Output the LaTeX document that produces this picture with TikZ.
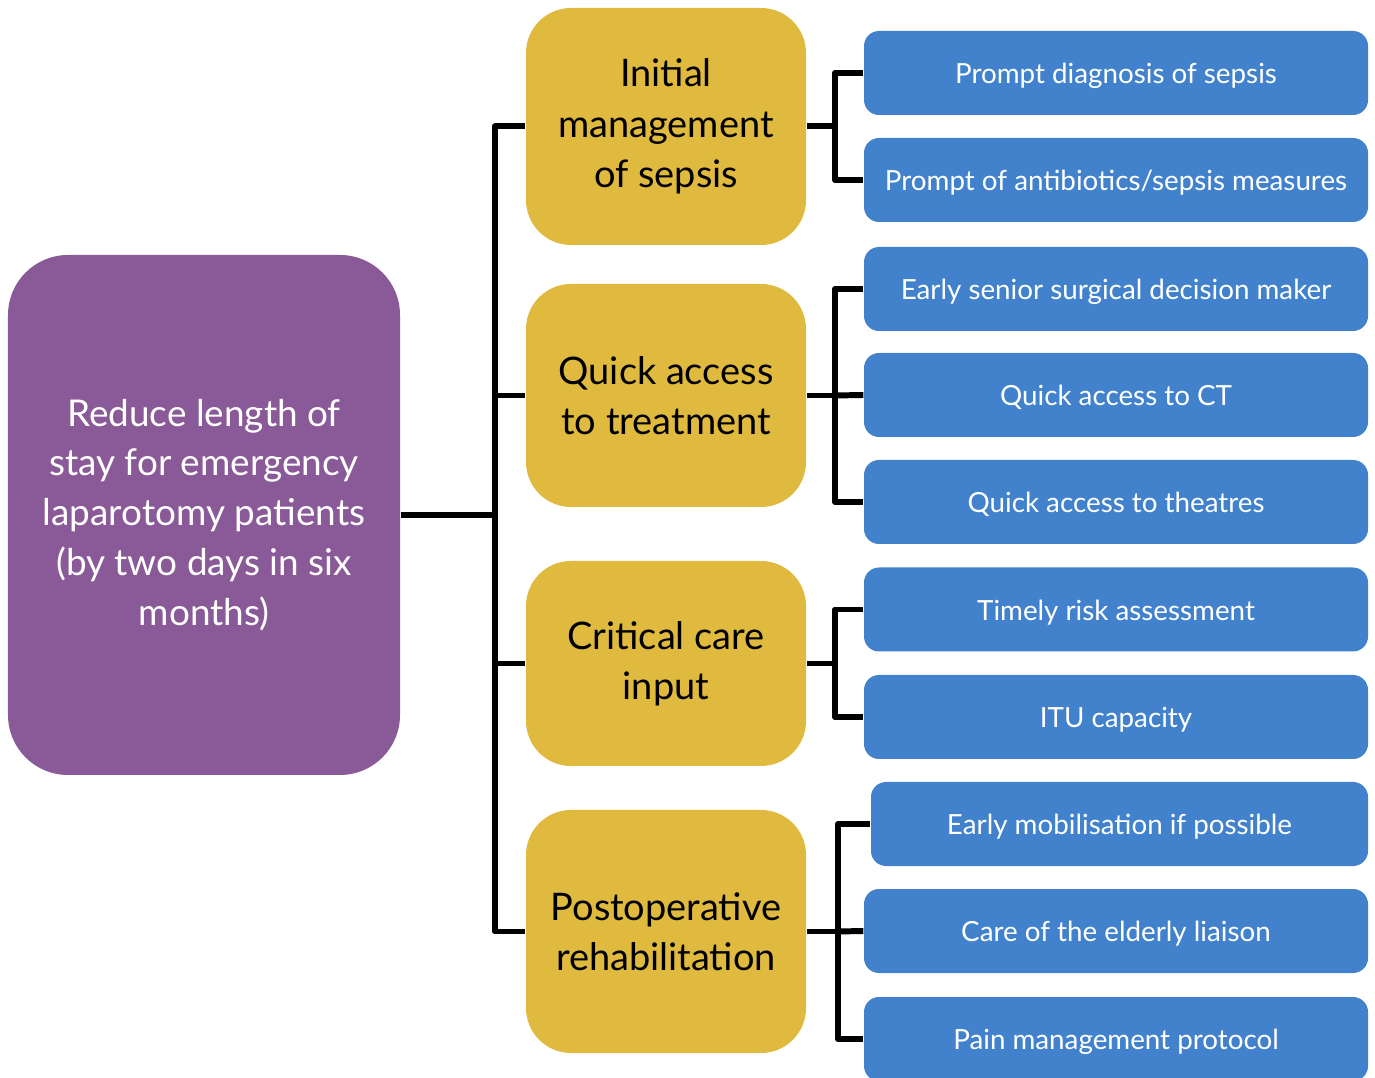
\documentclass[tikz,border=0pt]{standalone}
\usepackage{fontspec}
\setmainfont{Lato}
\usepackage{tikz}

\definecolor{goalpurple}{HTML}{895A97}
\definecolor{driveryellow}{HTML}{E0BA3F}
\definecolor{ideablue}{HTML}{4282CD}

\begin{document}
\begin{tikzpicture}[
		goal/.style={rectangle, fill=goalpurple, rounded corners=0.6cm, inner sep=0pt, minimum width=3.92cm, minimum height=5.2cm, text=white, align=center, font=\fontsize{10.5pt}{14.2pt}\selectfont},
		driver/.style={rectangle, fill=driveryellow, rounded corners=0.45cm, inner sep=0pt, minimum width=2.8cm, text=black, align=center, font=\fontsize{10.8pt}{14.3pt}\selectfont},
		idea/.style={rectangle, fill=ideablue, rounded corners=0.15cm, inner sep=0pt, minimum width=5.04cm, minimum height=0.84cm, text height=1.6ex, text depth=0.4ex, text=white, font=\fontsize{7.9pt}{10pt}\selectfont},
		link/.style={line width=1.7pt, line join=round}
	]
  \useasboundingbox (0,0) rectangle (13.75,10.77);

  \node (goal) [goal] at (2.04, 5.62) {Reduce length of\\stay for emergency\\laparotomy patients\\(by two days in six\\months)};

  \node (d1) [driver, minimum height=2.37cm] at (6.66, 9.505) {Initial\\management\\of sepsis};
  \node (d2) [driver, minimum height=2.23cm] at (6.66, 6.815) {Quick access\\to treatment};
  \node (d3) [driver, minimum height=2.05cm] at (6.66, 4.135) {Critical care\\input};
  \node (d4) [driver, minimum height=2.43cm] at (6.66, 1.455) {Postoperative\\rehabilitation};

  \node (i1) [idea] at (11.16, 10.04) {Prompt diagnosis of sepsis};
  \node (i2) [idea] at (11.16, 8.97) {Prompt of antibiotics/sepsis measures};
  \node (i3) [idea] at (11.16, 7.88) {Early senior surgical decision maker};
  \node (i4) [idea] at (11.16, 6.82) {Quick access to CT};
  \node (i5) [idea] at (11.16, 5.75) {Quick access to theatres};
  \node (i6) [idea] at (11.16, 4.675) {Timely risk assessment};
  \node (i7) [idea] at (11.16, 3.60) {ITU capacity};
  \node (i8) [idea, minimum width=4.97cm] at (11.195, 2.53) {Early mobilisation if possible};
  \node (i9) [idea] at (11.16, 1.46) {Care of the elderly liaison};
  \node (i10) [idea] at (11.16, 0.38) {Pain management protocol};

  \coordinate (trunk) at (4.95, 5.62);
  \coordinate (s1) at (8.35, 9.505);
  \coordinate (s2) at (8.35, 6.815);
  \coordinate (s3) at (8.35, 4.135);
  \coordinate (s4) at (8.38, 1.455);

  \draw [link] (goal.east) -- (trunk) |- (d1.west);
  \draw [link] (trunk) |- (d2.west);
  \draw [link] (trunk) |- (d3.west);
  \draw [link] (trunk) |- (d4.west);

  \draw [link] (d1.east) -- (s1) |- (i1.west);
  \draw [link] (s1) |- (i2.west);
  \draw [link] (d2.east) -- (s2) |- (i3.west);
  \draw [link] (s2) -- (i4.west);
  \draw [link] (s2) |- (i5.west);
  \draw [link] (d3.east) -- (s3) |- (i6.west);
  \draw [link] (s3) |- (i7.west);
  \draw [link] (d4.east) -- (s4) |- (i8.west);
  \draw [link] (s4) -- (i9.west);
  \draw [link] (s4) |- (i10.west);
\end{tikzpicture}
\end{document}
